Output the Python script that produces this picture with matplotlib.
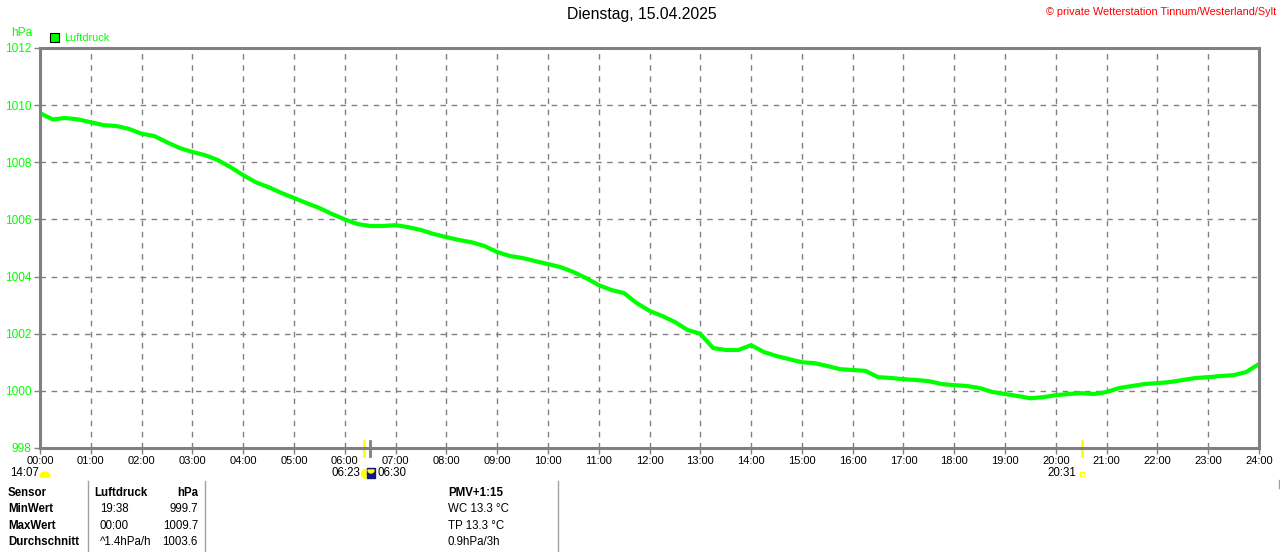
import numpy as np
import matplotlib
matplotlib.use("Agg")
import matplotlib.pyplot as plt
from matplotlib.patches import Rectangle, Wedge

plt.rcParams['font.family'] = ['Liberation Sans', 'DejaVu Sans']

########## DATA ###############################################################
# hours since midnight, every 15 min
hours = np.arange(0, 24.01, 0.25)
luftdruck = [1009.72, 1009.50, 1009.55, 1009.50, 1009.40, 1009.30, 1009.27, 1009.17,
             1009.00, 1008.92, 1008.70, 1008.50, 1008.36, 1008.25, 1008.08, 1007.83,
             1007.55, 1007.30, 1007.13, 1006.93, 1006.75, 1006.57, 1006.40, 1006.19,
             1006.00, 1005.84, 1005.77, 1005.77, 1005.80, 1005.73, 1005.63, 1005.49,
             1005.38, 1005.28, 1005.20, 1005.07, 1004.86, 1004.72, 1004.65, 1004.54,
             1004.44, 1004.33, 1004.16, 1003.95, 1003.70, 1003.53, 1003.42, 1003.07,
             1002.80, 1002.62, 1002.41, 1002.13, 1002.00, 1001.50, 1001.43, 1001.43,
             1001.60, 1001.36, 1001.22, 1001.11, 1001.00, 1000.97, 1000.87, 1000.76,
             1000.73, 1000.70, 1000.48, 1000.45, 1000.41, 1000.38, 1000.34, 1000.24,
             1000.20, 1000.17, 1000.10, 999.96, 999.89, 999.82, 999.74, 999.78,
             999.85, 999.89, 999.92, 999.89, 999.96, 1000.10, 1000.17, 1000.24,
             1000.27, 1000.31, 1000.38, 1000.45, 1000.48, 1000.52, 1000.55, 1000.66,
             1000.94]

tick_hours = np.arange(0, 25)
tick_labels = ["%02d:00" % h for h in tick_hours]
y_ticks = np.arange(998, 1013, 2)

title = "Dienstag, 15.04.2025"
copyright_txt = "\u00a9 private Wetterstation Tinnum/Westerland/Sylt"

sunrise, moonrise, sunset = "06:23", "06:30", "20:31"
sunrise_h, moon_h, sunset_h = 6 + 23/60, 6.5, 20 + 31/60

table_rows = [("Sensor", "Luftdruck", "hPa", "PMV+1:15"),
              ("MinWert", "19:38", "999.7", "WC 13.3 \u00b0C"),
              ("MaxWert", "00:00", "1009.7", "TP 13.3 \u00b0C"),
              ("Durchschnitt", "^1.4hPa/h", "1003.6", "0.9hPa/3h")]

########## FIGURE #############################################################
W, H = 1280, 552
green = '#00ff00'
gray = '#808080'
fig = plt.figure(figsize=(W/100, H/100), dpi=100)
ax = fig.add_axes([40/W, 1-448/H, (1259-40)/W, 400/H])

ax.plot(hours, luftdruck, color=green, lw=3)
ax.set_xlim(0, 24)
ax.set_ylim(998, 1012)
ax.set_xticks(tick_hours)
ax.set_xticklabels(tick_labels, fontsize=8)
ax.set_yticks(y_ticks)
ax.set_yticklabels([str(v) for v in y_ticks], fontsize=8.6, color=green)
ax.tick_params(direction='out', length=4, width=1, color=gray, pad=2)
ax.grid(True, color=gray, ls=(0, (4, 4)), lw=1)
for s in ax.spines.values():
    s.set_color(gray)
    s.set_linewidth(2.2)

# sunrise / sunset markers on the axis
for xh, c in [(sunrise_h, '#ffff00'), (moon_h, gray), (sunset_h, '#ffff00')]:
    ax.plot([xh, xh], [998 - 0.28, 998 + 0.25], color=c, lw=2, clip_on=False)

# overlay in pixel coordinates (y downwards) for texts and icons
ov = fig.add_axes([0, 0, 1, 1])
ov.set_xlim(0, W)
ov.set_ylim(H, 0)
ov.axis('off')

ov.text(642, 15, title, ha='center', va='center', fontsize=11.3)
ov.text(1276, 12, copyright_txt, ha='right', va='center', fontsize=7.8, color='#ff0000')
ov.text(11, 33, "hPa", ha='left', va='center', fontsize=8.6, color=green)
ov.add_patch(Rectangle((50, 33), 9, 9, facecolor=green, edgecolor='black', lw=0.8))
ov.text(64, 38, "Luftdruck", ha='left', va='center', fontsize=7.8, color=green)

# astro line below the axis
ov.text(10, 473, "14:07", ha='left', va='center', fontsize=8.3)
ov.add_patch(Wedge((45, 477), 5, 180, 360, color='#ffff00'))
ov.text(360, 473, sunrise, ha='right', va='center', fontsize=8.3)
ov.add_patch(Wedge((366, 474), 4.5, 90, 270, color='#ffff00'))
ov.add_patch(Rectangle((367, 468), 8, 10, color='#101880'))
ov.add_patch(Wedge((371, 470), 3, 0, 180, color='#ffff00'))
ov.text(377, 473, moonrise, ha='left', va='center', fontsize=8.3)
ov.text(1076, 473, sunset, ha='right', va='center', fontsize=8.3)
ov.add_patch(Rectangle((1080, 472), 4, 4, facecolor='none', edgecolor='#ffff00', lw=0.8))

# summary table
for xl in [88, 205, 558]:
    ov.plot([xl, xl], [481, 552], color='#a0a0a0', lw=1)
ov.plot([1279, 1279], [480, 488], color='#a0a0a0', lw=1)
row_y = [493, 509, 526, 542]
for i, (a, b, c, d) in enumerate(table_rows):
    y = row_y[i]
    head = 'bold' if i == 0 else 'normal'
    ov.text(8, y, a, ha='left', va='center', fontsize=8.3, weight='bold')
    ov.text(94 if i == 0 else 100, y, b, ha='left', va='center', fontsize=8.3, weight=head)
    ov.text(198, y, c, ha='right', va='center', fontsize=8.3, weight=head)
    ov.text(448, y, d, ha='left', va='center', fontsize=8.3, weight=head)

fig.savefig("out.png", dpi=100)
